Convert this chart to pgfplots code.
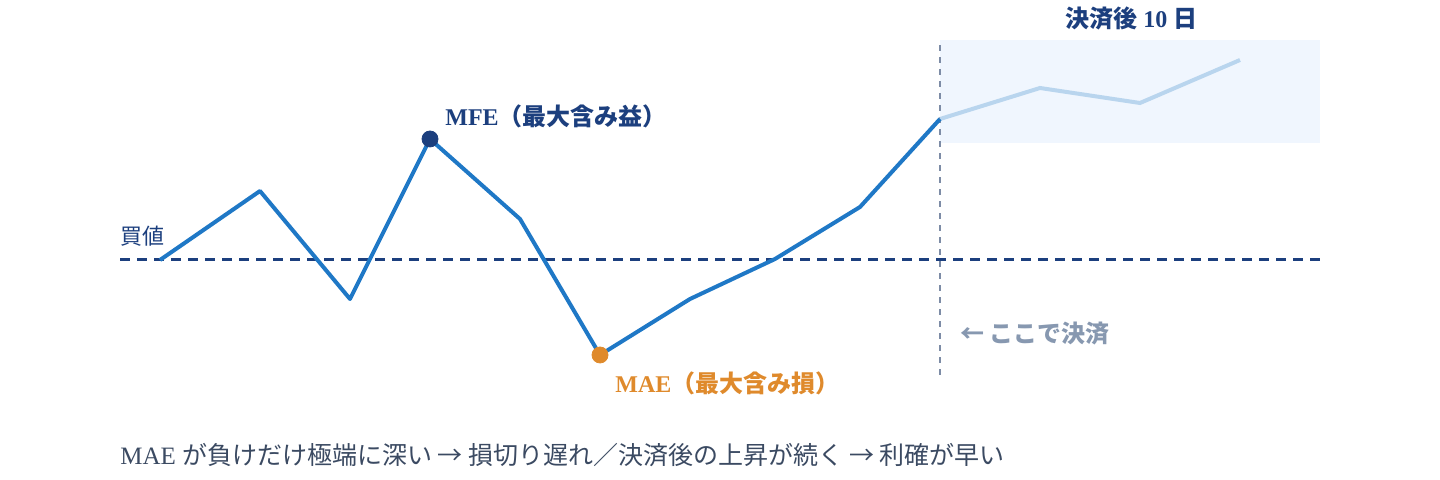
\documentclass[border=0pt]{standalone}
\usepackage{fontspec}
\setmainfont{Liberation Serif}
\newfontfamily\cjk{Noto Sans CJK JP}
\usepackage{pgfplots}
\pgfplotsset{compat=1.18}
\definecolor{mainblue}{HTML}{1F78C6}
\definecolor{lightblue}{HTML}{B9D5EE}
\definecolor{navy}{HTML}{1C3F7E}
\definecolor{maeorange}{HTML}{DF8A2C}
\definecolor{shade}{HTML}{F0F6FE}
\definecolor{vgray}{HTML}{7D8CA6}
\definecolor{tgray}{HTML}{8798B0}
\definecolor{captc}{HTML}{3B4A62}
\begin{document}
\begin{tikzpicture}
\useasboundingbox (0,0) rectangle (720pt,240pt);
\begin{axis}[
  scale only axis, width=720pt, height=240pt,
  xmin=0, xmax=1440, ymin=0, ymax=480,
  hide axis, clip=false,
]
% shaded after-exit region
\addplot[draw=none, fill=shade] coordinates {(940,337) (1320,337) (1320,440) (940,440)} -- cycle;
% baseline (entry price)
\addplot[navy, line width=1.5pt, dash pattern=on 5pt off 3.5pt] coordinates {(120,220) (1320,220)};
% exit vertical
\addplot[vgray, line width=0.6pt, dash pattern=on 3pt off 3pt] coordinates {(940,105) (940,440)};
% after-exit path
\addplot[lightblue, line width=2pt] coordinates {(940,361) (1040,392) (1140,377) (1240,420)};
% price path
\addplot[mainblue, line width=2pt, line join=round] coordinates {
(160,220) (260,289) (350,181) (430,341) (520,261) (600,125) (690,181) (775,221) (860,273) (940,361)};
% MFE / MAE
\addplot[only marks, mark=*, mark size=4pt, navy] coordinates {(430,341)};
\addplot[only marks, mark=*, mark size=4pt, maeorange] coordinates {(600,125)};
% labels
\node[anchor=west, inner sep=0pt, text=navy, font=\fontsize{11}{13}\selectfont] at (axis cs:120,244) {\cjk 買値};
\node[anchor=west, inner sep=0pt, text=navy, font=\fontsize{12}{14}\selectfont\bfseries] at (axis cs:445,364) {MFE{\cjk （最大含み益）}};
\node[anchor=west, inner sep=0pt, text=maeorange, font=\fontsize{12}{14}\selectfont\bfseries] at (axis cs:615,97) {MAE{\cjk （最大含み損）}};
\node[anchor=west, inner sep=0pt, text=tgray, font=\fontsize{12}{14}\selectfont\bfseries] at (axis cs:960,146) {{\cjk ← ここで決済}};
\node[anchor=west, inner sep=0pt, text=navy, font=\fontsize{12}{14}\selectfont\bfseries] at (axis cs:1065,462) {{\cjk 決済後} 10 {\cjk 日}};
\node[anchor=west, inner sep=0pt, text=captc, font=\fontsize{12.5}{15}\selectfont] at (axis cs:120,25) {MAE {\cjk が負けだけ極端に深い → 損切り遅れ／決済後の上昇が続く → 利確が早い}};
\end{axis}
\end{tikzpicture}
\end{document}
